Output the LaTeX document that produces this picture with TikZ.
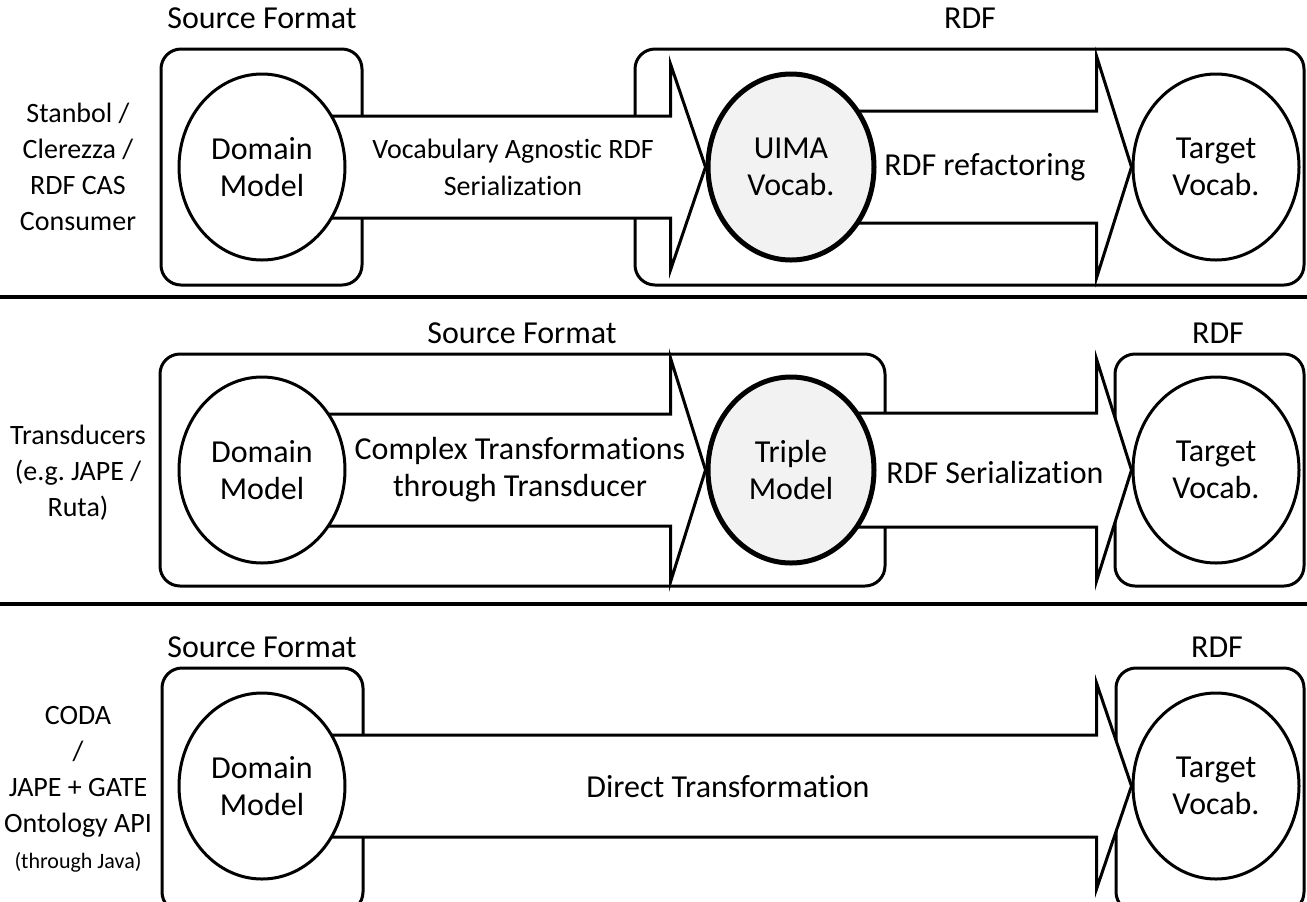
\documentclass[tikz,border=0pt]{standalone}
\usepackage{fontspec}
\setmainfont{Carlito}[Ligatures=NoCommon]
\usetikzlibrary{shapes.geometric,calc,backgrounds}
\definecolor{vocabgray}{HTML}{F2F2F2}
\frenchspacing

\tikzset{
  vocab/.style={ellipse, draw, line width=1.5pt, fill=white, minimum width=83pt, minimum height=93pt, inner sep=0pt, align=center, font=\fontsize{16}{18.5}\selectfont},
  keyvocab/.style={vocab, line width=2.5pt, fill=vocabgray},
  group/.style={draw, line width=1.5pt, rounded corners=10pt},
  flow/.style={draw, line width=1.5pt, fill=white, line join=miter},
  grouplabel/.style={inner sep=0.75pt, font=\fontsize{16}{18.5}\selectfont},
  flowlabel/.style={inner sep=0.75pt, align=center, font=\fontsize{16}{18.5}\selectfont},
  toollabel/.style={inner sep=0.75pt, align=center, font=\fontsize{14}{18}\selectfont},
  divider/.style={line width=2pt}
}

\begin{document}
\begin{tikzpicture}[x=0.5pt,y=0.5pt,yscale=-1,xscale=1]
\useasboundingbox (0,0) rectangle (1307,901);
%Vocabularies
\node[vocab] (domA) at (262,167) {Domain\\Model};
\node[keyvocab] (uimaA) at (791,167) {UIMA\\Vocab.};
\node[vocab] (targetA) at (1216,167) {Target\\Vocab.};
\node[vocab] (domB) at (262,470) {Domain\\Model};
\node[keyvocab] (tripleB) at (791,470) {Triple\\Model};
\node[vocab] (targetB) at (1216,470) {Target\\Vocab.};
\node[vocab] (domC) at (262,786) {Domain\\Model};
\node[vocab] (targetC) at (1216,786) {Target\\Vocab.};
\begin{scope}[on background layer]
%Groups
\draw[group] (161,49) rectangle (362,285);
\draw[group] (635,49) rectangle (1304,285);
\draw[group] (160,354) rectangle (885,586);
\draw[group] (1115,354) rectangle (1304,586);
\draw[group] (162,668) rectangle (363,912);
\draw[group] (1116,668) rectangle (1304,912);
%Flows
\draw[flow] ($(domA)+(0,-51)$) -| ($(uimaA.west)+(-35,-103)$) -- (uimaA.west) -- ($(uimaA.west)+(-35,103)$) |- ($(domA)+(0,51)$) -- cycle;
\draw[flow] ($(uimaA)+(0,-56)$) -| ($(targetA.west)+(-35,-111)$) -- (targetA.west) -- ($(targetA.west)+(-35,111)$) |- ($(uimaA)+(0,56)$) -- cycle;
\draw[flow] ($(domB)+(0,-56)$) -| ($(tripleB.west)+(-35,-112)$) -- (tripleB.west) -- ($(tripleB.west)+(-35,112)$) |- ($(domB)+(0,56)$) -- cycle;
\draw[flow] ($(tripleB)+(0,-57)$) -| ($(targetB.west)+(-35,-111)$) -- (targetB.west) -- ($(targetB.west)+(-35,111)$) |- ($(tripleB)+(0,57)$) -- cycle;
\draw[flow] ($(domC)+(0,-51)$) -| ($(targetC.west)+(-35,-103)$) -- (targetC.west) -- ($(targetC.west)+(-35,103)$) |- ($(domC)+(0,51)$) -- cycle;
\end{scope}
%Dividers
\draw[divider] (0,297) -- (1307,297);
\draw[divider] (0,604) -- (1307,604);
%Text
\node[grouplabel] (srcA) at (262,18) {Source Format};
\node[grouplabel] (rdfA) at (970,18) {RDF};
\node[grouplabel] (srcB) at (522,333) {Source Format};
\node[grouplabel] (rdfB) at (1218,333) {RDF};
\node[grouplabel] (srcC) at (262,647) {Source Format};
\node[grouplabel] (rdfC) at (1217,647) {RDF};
\node[flowlabel, font=\fontsize{14}{18.5}\selectfont] (serA) at (513,167) {Vocabulary Agnostic RDF\\Serialization};
\node[flowlabel] (refA) at (985,167) {RDF refactoring};
\node[flowlabel] (transB) at (520,470) {Complex Transformations\\through Transducer};
\node[flowlabel] (serB) at (995,472) {RDF Serialization};
\node[flowlabel] (directC) at (728,787) {Direct Transformation};
\node[toollabel] (toolA) at (78,167) {Stanbol /\\Clerezza /\\RDF CAS\\Consumer};
\node[toollabel] (toolB) at (78,473) {Transducers\\(e.g. JAPE /\\Ruta)};
\node[toollabel] (toolC) at (78,789) {CODA\\/\\JAPE + GATE\\Ontology API\\{\fontsize{11}{14}\selectfont (through Java)}};
\end{tikzpicture}
\end{document}
